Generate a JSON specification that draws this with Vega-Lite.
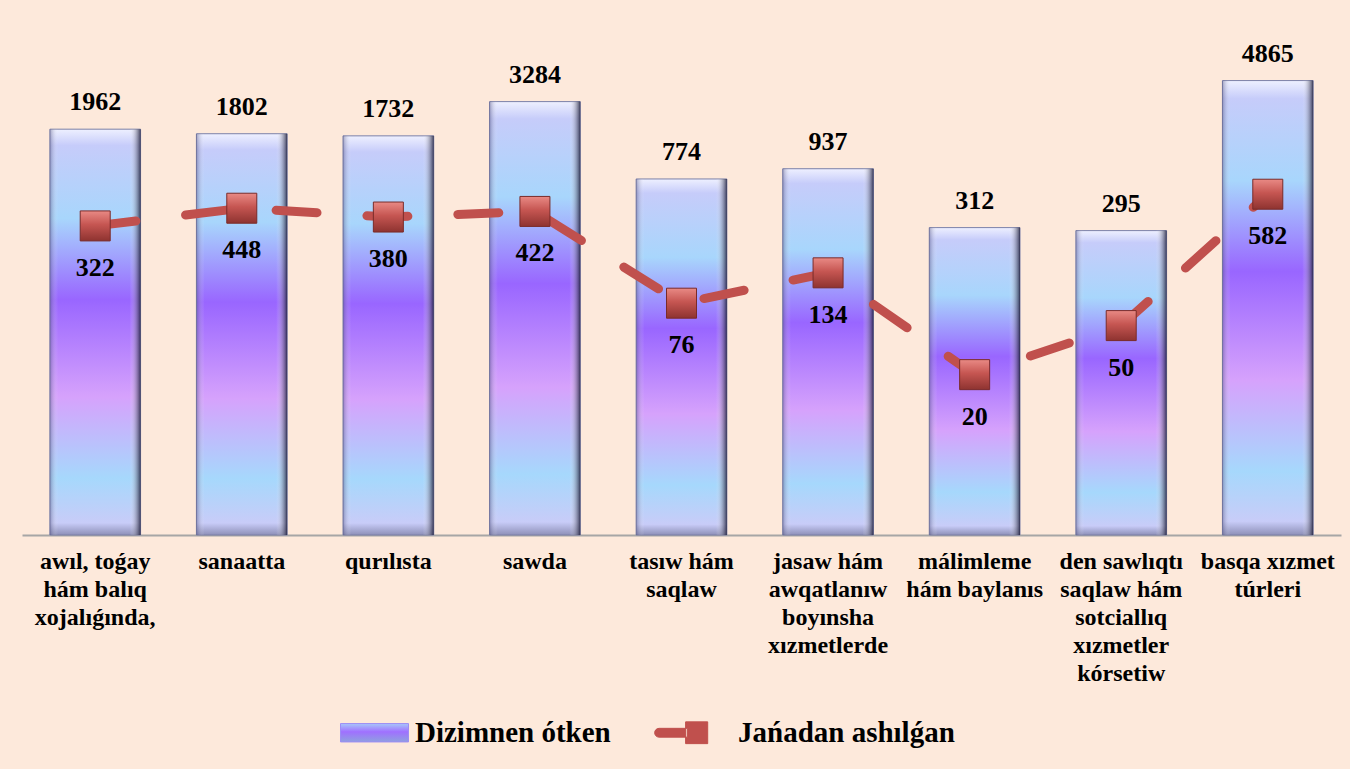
{
  "$schema": "https://vega.github.io/schema/vega-lite/v6.json",
  "width": 1319,
  "height": 493,
  "autosize": {"type": "none"},
  "padding": {"left": 22, "top": 42, "right": 9, "bottom": 234},
  "background": "#FDE9DB",
  "config": {"view": {"stroke": null}, "font": "Liberation Serif"},
  "data": {
    "values": [
      {"sector": "awıl, toǵay|hám balıq|xojalıǵında,", "registered": 1962, "reopened": 322},
      {"sector": "sanaatta", "registered": 1802, "reopened": 448},
      {"sector": "qurılısta", "registered": 1732, "reopened": 380},
      {"sector": "sawda", "registered": 3284, "reopened": 422},
      {"sector": "tasıw hám|saqlaw", "registered": 774, "reopened": 76},
      {"sector": "jasaw hám|awqatlanıw|boyınsha|xızmetlerde", "registered": 937, "reopened": 134},
      {"sector": "málimleme|hám baylanıs", "registered": 312, "reopened": 20},
      {"sector": "den sawlıqtı|saqlaw hám|sotciallıq|xızmetler|kórsetiw", "registered": 295, "reopened": 50},
      {"sector": "basqa xızmet|túrleri", "registered": 4865, "reopened": 582}
    ]
  },
  "encoding": {
    "x": {
      "field": "sector",
      "type": "nominal",
      "sort": null,
      "scale": {"paddingInner": 0.381, "paddingOuter": 0.19},
      "axis": {
        "title": null,
        "labelAngle": 0,
        "labelFont": "Liberation Serif",
        "labelFontSize": 24,
        "labelFontWeight": "bold",
        "labelColor": "#000000",
        "labelLineHeight": 28,
        "labelPadding": 14,
        "labelBaseline": "top",
        "labelExpr": "split(datum.label, '|')",
        "labelOverlap": false,
        "labelBound": false,
        "labelLimit": 0,
        "ticks": false,
        "grid": false,
        "domainColor": "#A6A6A6",
        "domainWidth": 2
      }
    }
  },
  "layer": [
    {
      "mark": {
        "type": "bar",
        "stroke": "#7C80A8",
        "strokeWidth": 1,
        "color": {
          "gradient": "linear",
          "x1": 0, "y1": 0, "x2": 0, "y2": 1,
          "stops": [
            {"offset": 0, "color": "#EEF0FF"},
            {"offset": 0.04, "color": "#C6CCFA"},
            {"offset": 0.22, "color": "#A8D6FC"},
            {"offset": 0.42, "color": "#9966FF"},
            {"offset": 0.66, "color": "#D6A2FC"},
            {"offset": 0.86, "color": "#A6D8FC"},
            {"offset": 0.97, "color": "#C8CCF8"},
            {"offset": 1, "color": "#8E90B8"}
          ]
        }
      },
      "encoding": {
        "y": {"field": "registered", "type": "quantitative", "scale": {"type": "log", "domain": [1, 10000], "nice": false}, "axis": null},
        "y2": {"datum": 1}
      }
    },
    {
      "mark": {
        "type": "bar",
        "color": {
          "gradient": "linear",
          "x1": 0, "y1": 0, "x2": 1, "y2": 0,
          "stops": [
            {"offset": 0, "color": "rgba(70,70,120,0.45)"},
            {"offset": 0.09, "color": "rgba(255,255,255,0)"},
            {"offset": 0.88, "color": "rgba(255,255,255,0)"},
            {"offset": 1, "color": "rgba(20,20,50,0.8)"}
          ]
        }
      },
      "encoding": {
        "y": {"field": "registered", "type": "quantitative"},
        "y2": {"datum": 1}
      }
    },
    {
      "mark": {"type": "text", "dy": -27, "baseline": "middle", "font": "Liberation Serif", "fontSize": 26, "fontWeight": "bold", "color": "#000000"},
      "encoding": {
        "y": {"field": "registered", "type": "quantitative"},
        "text": {"field": "registered", "type": "quantitative", "format": "d"}
      }
    },
    {
      "mark": {"type": "line", "strokeWidth": 9, "strokeCap": "round", "strokeDash": [41, 50]},
      "encoding": {
        "y": {"field": "reopened", "type": "quantitative"},
        "color": {
          "datum": "Jańadan ashılǵan",
          "scale": {"domain": ["Dizimnen ótken", "Jańadan ashılǵan"], "range": ["#9D8CF5", "#C0504D"]},
          "legend": {
            "title": null,
            "orient": "none",
            "direction": "horizontal",
            "columns": 2,
            "legendX": 318,
            "legendY": 656,
            "padding": 0,
            "columnPadding": 41,
            "symbolSize": 4624,
            "labelOffset": 6,
            "labelFont": "Liberation Serif",
            "labelFontSize": 29,
            "labelFontWeight": "bold",
            "labelColor": "#000000",
            "labelLimit": 0,
            "encode": {
              "symbols": {
                "update": {
                  "shape": {"signal": "datum.value === 'Dizimnen ótken' ? 'M-1,-0.27H1V0.27H-1Z' : 'M-1.13,-0.13A0.13,0.13 0 0 0 -1.13,0.13H-0.3V-0.13Z M-0.35,-0.32H0.3V0.32H-0.35Z'"},
                  "fill": {"signal": "datum.value === 'Dizimnen ótken' ? {gradient: 'linear', x1: 0, y1: 0, x2: 0, y2: 1, stops: [{offset: 0, color: '#A8C8FA'}, {offset: 0.45, color: '#A070FF'}, {offset: 1, color: '#8FA0E0'}]} : '#C0504D'"},
                  "stroke": {"signal": "datum.value === 'Dizimnen ótken' ? '#5A5E8A' : '#7A2B29'"},
                  "strokeWidth": {"value": 1},
                  "opacity": {"value": 1}
                }
              }
            }
          }
        }
      }
    },
    {
      "mark": {
        "type": "point",
        "shape": "square",
        "filled": true,
        "size": 900,
        "opacity": 1,
        "stroke": "#7A2B29",
        "strokeWidth": 1,
        "fill": {
          "gradient": "linear",
          "x1": 0, "y1": 0, "x2": 0, "y2": 1,
          "stops": [
            {"offset": 0, "color": "#E98A85"},
            {"offset": 0.45, "color": "#C65652"},
            {"offset": 1, "color": "#8E3330"}
          ]
        }
      },
      "encoding": {
        "y": {"field": "reopened", "type": "quantitative"}
      }
    },
    {
      "mark": {"type": "text", "dy": 42, "baseline": "middle", "font": "Liberation Serif", "fontSize": 26, "fontWeight": "bold", "color": "#000000"},
      "encoding": {
        "y": {"field": "reopened", "type": "quantitative"},
        "text": {"field": "reopened", "type": "quantitative", "format": "d"}
      }
    }
  ]
}
